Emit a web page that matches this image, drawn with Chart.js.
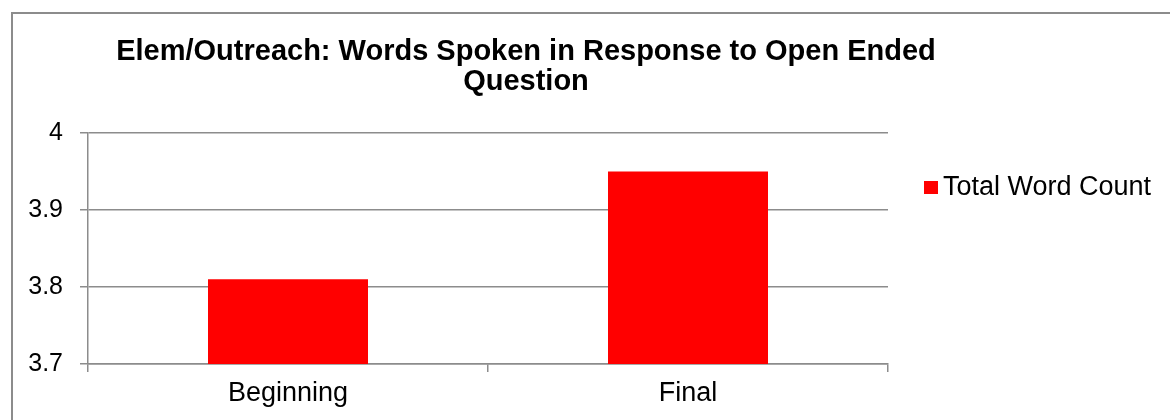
<!DOCTYPE html>
<html>
<head>
<meta charset="utf-8">
<script src="https://cdn.jsdelivr.net/npm/chart.js@4/dist/chart.umd.min.js"></script>
<style>
    html, body { margin: 0; padding: 0; background: #fff; }
    #wrap { position: relative; width: 1170px; height: 420px; overflow: hidden; }
    #frame {
        position: absolute; left: 11px; top: 12px; width: 1300px; height: 500px;
        border-left: 2px solid #8c8c8c; border-top: 2px solid #8c8c8c;
    }
    canvas { position: absolute; left: 0; top: 0; }
</style>
</head>
<body>
<div id="wrap">
    <div id="frame"></div>
    <canvas id="chart" width="1170" height="420"></canvas>
</div>
<script>
// Chart data
const titleLines = ['Elem/Outreach: Words Spoken in Response to Open Ended', 'Question'];
const categories = ['Beginning', 'Final'];
const seriesName = 'Total Word Count';
const wordCounts = [3.81, 3.95];
const yTicks = [3.7, 3.8, 3.9, 4];

const FONT = 'Arial, "Liberation Sans", sans-serif';
const GRID = '#8c8c8c';

// title + legend drawn by hand so they land where the original has them
const decorations = {
    id: 'decorations',
    afterDraw(chart) {
        const ctx = chart.ctx;
        ctx.save();
        ctx.fillStyle = '#000';
        ctx.textAlign = 'center';
        ctx.textBaseline = 'alphabetic';
        ctx.font = 'bold 29px ' + FONT;
        titleLines.forEach((line, i) => ctx.fillText(line, 526, 60 + i * 30));

        const ds = chart.data.datasets[0];
        ctx.fillStyle = ds.backgroundColor;
        ctx.fillRect(924, 181, 14, 13);
        ctx.fillStyle = '#000';
        ctx.textAlign = 'left';
        ctx.textBaseline = 'middle';
        ctx.font = '27px ' + FONT;
        ctx.fillText(ds.label, 943, 188);
        ctx.restore();
    }
};

new Chart(document.getElementById('chart'), {
    type: 'bar',
    data: {
        labels: categories,
        datasets: [{
            label: seriesName,
            data: wordCounts,
            backgroundColor: '#ff0000',
            borderWidth: 0,
            barPercentage: 0.4,
            categoryPercentage: 1
        }]
    },
    options: {
        responsive: false,
        animation: false,
        layout: { padding: { left: 0, top: 133, right: 282, bottom: 0 } },
        plugins: {
            legend: { display: false },
            title: { display: false },
            tooltip: { enabled: false }
        },
        scales: {
            x: {
                afterFit: (scale) => { scale.height = 56; },
                grid: { offset: true, drawOnChartArea: false, color: GRID, lineWidth: 1.5, tickLength: 8 },
                border: { color: GRID, width: 1.5 },
                ticks: { color: '#000', font: { family: FONT, size: 27 }, padding: 5 }
            },
            y: {
                min: 3.7,
                max: 4,
                afterFit: (scale) => { scale.width = 88; },
                afterBuildTicks: (scale) => { scale.ticks = yTicks.map(v => ({ value: v })); },
                grid: { color: GRID, lineWidth: 1.5, tickLength: 8 },
                border: { color: GRID, width: 1.5 },
                ticks: {
                    color: '#000',
                    font: { family: FONT, size: 25 },
                    padding: 17,
                    callback: (value) => String(value)
                }
            }
        }
    },
    plugins: [decorations]
});
</script>
</body>
</html>
